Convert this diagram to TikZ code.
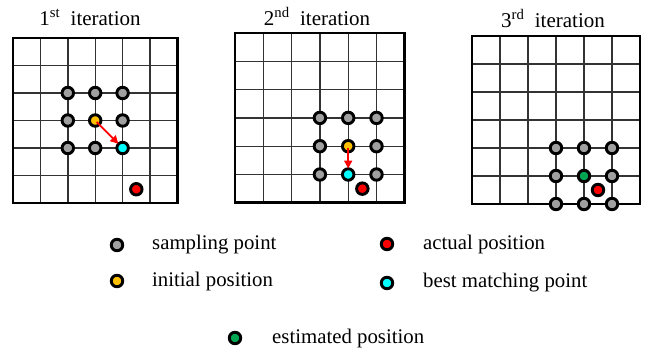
\documentclass[tikz,border=0pt]{standalone}
\usepackage{fontspec}
\setmainfont{Liberation Serif}
\usetikzlibrary{arrows.meta}
\definecolor{dgray}{HTML}{A0A0A0}
\definecolor{dorange}{HTML}{FFC000}
\definecolor{dcyan}{HTML}{00FFFF}
\definecolor{dred}{HTML}{FF0000}
\definecolor{dgreen}{HTML}{00A651}
\tikzset{
  gridline/.style={draw=black!80, line width=1.4pt},
  border/.style={draw=black, line width=2.8pt},
  dot/.style={circle, draw=black, line width=2.9pt, minimum size=11.5pt, inner sep=0pt},
  title/.style={font=\fontsize{21}{25}\selectfont, anchor=base, inner sep=0pt},
  legtext/.style={font=\fontsize{20.8}{24}\selectfont, anchor=west, inner sep=0pt},
  movearrow/.style={draw=dred, line width=1.8pt, -{Triangle[length=8pt,width=8pt]}, shorten <=2pt, shorten >=6pt}
}
\begin{document}
\begin{tikzpicture}[x=1pt, y=-1pt]
\useasboundingbox (0,0) rectangle (649,351);
% titles
\node[title] (t1) at (90,25) {1\textsuperscript{st}\ \ iteration};
\node[title] (t2) at (317,25) {2\textsuperscript{nd}\ \ iteration};
\node[title] (t3) at (553,27) {3\textsuperscript{rd}\ \ iteration};
% grid 1
\begin{scope}[shift={(13,38)}, x=27.4pt, y=-27.5pt]
  \foreach \i in {1,...,5} {
    \draw[gridline] (\i,0) -- (\i,6);
    \draw[gridline] (0,\i) -- (6,\i);
  }
  \draw[border] (0,0) rectangle (6,6);
  \node[dot, fill=dgray] (a22) at (2,2) {};
  \node[dot, fill=dgray] (a32) at (3,2) {};
  \node[dot, fill=dgray] (a42) at (4,2) {};
  \node[dot, fill=dgray] (a23) at (2,3) {};
  \node[dot, fill=dorange] (a33) at (3,3) {};
  \node[dot, fill=dgray] (a43) at (4,3) {};
  \node[dot, fill=dgray] (a24) at (2,4) {};
  \node[dot, fill=dgray] (a34) at (3,4) {};
  \node[dot, fill=dcyan] (a44) at (4,4) {};
  \node[dot, fill=dred] (ar) at (4.5,5.5) {};
  \draw[movearrow] (a33.center) -- (a44.center);
\end{scope}
% grid 2
\begin{scope}[shift={(235,33)}, x=28.3pt, y=-28.3pt]
  \foreach \i in {1,...,5} {
    \draw[gridline] (\i,0) -- (\i,6);
    \draw[gridline] (0,\i) -- (6,\i);
  }
  \draw[border] (0,0) rectangle (6,6);
  \node[dot, fill=dgray] (b33) at (3,3) {};
  \node[dot, fill=dgray] (b43) at (4,3) {};
  \node[dot, fill=dgray] (b53) at (5,3) {};
  \node[dot, fill=dgray] (b34) at (3,4) {};
  \node[dot, fill=dorange] (b44) at (4,4) {};
  \node[dot, fill=dgray] (b54) at (5,4) {};
  \node[dot, fill=dgray] (b35) at (3,5) {};
  \node[dot, fill=dcyan] (b45) at (4,5) {};
  \node[dot, fill=dgray] (b55) at (5,5) {};
  \node[dot, fill=dred] (br) at (4.5,5.5) {};
  \draw[movearrow] (b44.center) -- (b45.center);
\end{scope}
% grid 3
\begin{scope}[shift={(472,36)}, x=28pt, y=-28pt]
  \foreach \i in {1,...,5} {
    \draw[gridline] (\i,0) -- (\i,6);
    \draw[gridline] (0,\i) -- (6,\i);
  }
  \draw[border] (0,0) rectangle (6,6);
  \node[dot, fill=dgray] (c34) at (3,4) {};
  \node[dot, fill=dgray] (c44) at (4,4) {};
  \node[dot, fill=dgray] (c54) at (5,4) {};
  \node[dot, fill=dgray] (c35) at (3,5) {};
  \node[dot, fill=dgreen] (c45) at (4,5) {};
  \node[dot, fill=dgray] (c55) at (5,5) {};
  \node[dot, fill=dred] (cr) at (4.5,5.5) {};
  \node[dot, fill=dgray] (c36) at (3,6) {};
  \node[dot, fill=dgray] (c46) at (4,6) {};
  \node[dot, fill=dgray] (c56) at (5,6) {};
\end{scope}
% legend
\node[dot, fill=dgray] (l1) at (117,245) {};
\node[legtext] (l1t) at (152,245) {sampling point};
\node[dot, fill=dorange] (l2) at (117,281) {};
\node[legtext] (l2t) at (152,281) {initial position};
\node[dot, fill=dred] (l3) at (387,244) {};
\node[legtext] (l3t) at (423,244) {actual position};
\node[dot, fill=dcyan] (l4) at (387,283) {};
\node[legtext] (l4t) at (423,283) {best matching point};
\node[dot, fill=dgreen] (l5) at (235,338) {};
\node[legtext] (l5t) at (272,338) {estimated position};
\end{tikzpicture}
\end{document}
